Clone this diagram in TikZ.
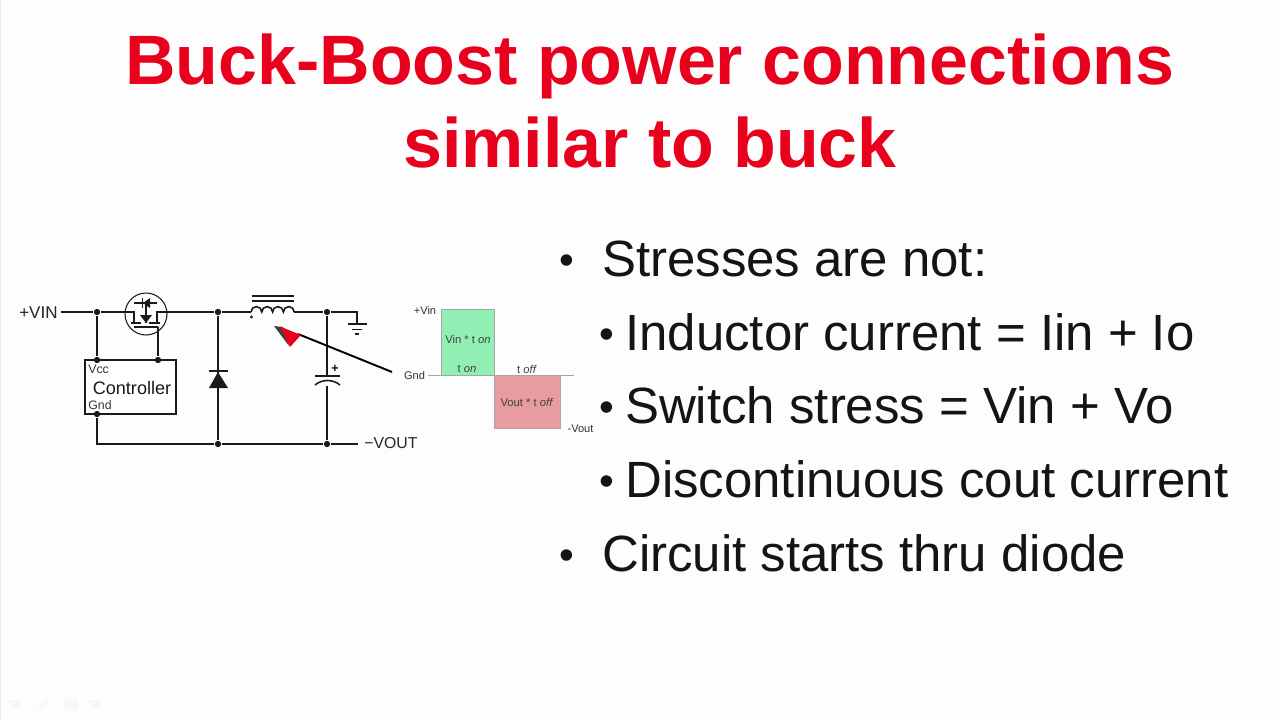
\documentclass[tikz,border=0pt]{standalone}
\usepackage{fontspec}
\setmainfont{Liberation Sans}
\usepackage[svgnames]{xcolor}
\usetikzlibrary{positioning}
\definecolor{titlered}{HTML}{E8001C}
\definecolor{pagewhite}{HTML}{FDFDFD}
\definecolor{wireblack}{HTML}{1A1A1A}
\definecolor{ongreen}{HTML}{92EFB4}
\definecolor{offred}{HTML}{E99C9F}
\tikzset{
  x=0.02cm,
  y=-0.02cm,
  wire/.style={draw=wireblack, line width=0.9pt},
  joint/.style={fill=wireblack, circle, inner sep=0pt, minimum size=3.6pt},
  titletext/.style={anchor=base, text=titlered, font=\fontsize{39.8}{39.8}\selectfont\bfseries},
  bodytext/.style={anchor=base west, text=black!92, font=\fontsize{29}{29}\selectfont},
  bullettext/.style={anchor=base, text=black!92, font=\fontsize{24}{24}\selectfont},
  smalltext/.style={text=black!75, font=\fontsize{6.4}{6.4}\selectfont},
  pintext/.style={text=black!80, font=\fontsize{7}{7}\selectfont, inner sep=0pt},
  plottext/.style={text=black!80, font=\fontsize{6.3}{6.3}\selectfont, inner sep=0pt},
  railtext/.style={text=black!85, font=\fontsize{9}{9}\selectfont, inner sep=0pt},
}
\begin{document}
\begin{tikzpicture}
\path[fill=pagewhite] (0,0) rectangle (1280,720);
\useasboundingbox (0,0) rectangle (1280,720);
\path[draw=black!8, line width=0.8pt] (0.5,0) -- (0.5,720);

% title
\node[titletext] (titleone) at (650,84) {Buck-Boost power connections};
\node[titletext] (titletwo) at (650,167) {similar to buck};

% bullets
\node[bullettext] (dotone) at (567,274) {•};
\node[bodytext] (lineone) at (596,276) {Stresses are not:};
\node[bullettext] (dottwo) at (607,348) {•};
\node[bodytext] (linetwo) at (619,350) {Inductor current = Iin + Io};
\node[bullettext] (dotthree) at (607,421) {•};
\node[bodytext] (linethree) at (619,423) {Switch stress = Vin + Vo};
\node[bullettext] (dotfour) at (607,495) {•};
\node[bodytext] (linefour) at (619,497) {Discontinuous cout current};
\node[bullettext] (dotfive) at (567,569) {•};
\node[bodytext] (linefive) at (596,571) {Circuit starts thru diode};

% controller
\node[draw=wireblack, line width=0.8pt, fill=white, minimum width=1.82cm, minimum height=1.08cm,
  inner sep=0pt] (ctrl) at (130.5,387) {};
\node[font=\fontsize{10.3}{10.3}\selectfont, text=black!90] (ctrlname) at (132,388) {Controller};
\node[pintext, anchor=west] (vcc) at (88,369) {Vcc};
\node[pintext, anchor=west] (gnd) at (88,405.5) {Gnd};

% schematic points
\node[railtext, anchor=east, font=\fontsize{9.7}{9.7}\selectfont] (vin) at (58,313) {+VIN};
\node[railtext, anchor=west] (vout) at (364,443) {−VOUT};
\node[joint] (jvcc) at (97,312) {};
\node[joint] (jdiode) at (218,312) {};
\node[joint] (jcap) at (327,312) {};
\node[joint] (jdiodelow) at (218,444) {};
\node[joint] (jcaplow) at (327,444) {};
\node[joint] (pinvcc) at (97,360) {};
\node[joint] (pingate) at (158,360) {};
\node[joint] (pingnd) at (97,414) {};
\coordinate (vinend) at (61,312);
\coordinate (fetleft) at (125,312);
\coordinate (fetright) at (167,312);
\coordinate (coilleft) at (251,312);
\coordinate (coilright) at (294,312);
\coordinate (gndtop) at (357,312);
\coordinate (gndbar) at (357,324);
\coordinate (voutend) at (358,444);
\coordinate (gateend) at (158,327);

% wires
\draw[wire] (vinend) -- (jvcc) -- (fetleft);
\draw[wire] (fetright) -- (jdiode) -- (coilleft);
\draw[wire] (coilright) -- (jcap) -- (gndtop) -- (gndbar);
\draw[wire] (jvcc) -- (pinvcc);
\draw[wire] (gateend) -- (pingate);
\draw[wire] (pingnd) |- (jdiodelow) -- (jcaplow) -- (voutend);
\draw[wire] (jdiode) -- (jdiodelow);
\draw[wire] (jcap) -- (jcaplow);

% fet
\node[draw=wireblack, line width=0.6pt, circle, minimum size=0.84cm, inner sep=0pt] (fet) at (146,314) {};
\draw[wire]
(fetleft) -- (134,312) -- (134,323)
(fetright) -- (157,312) -- (157,323)
(131,323) -- (141,323)
(149,323) -- (160,323)
(134,327) -- (gateend)
(134,303) -- (157,303)
(146,303) -- (146,323)
;
\fill[wireblack]
(143,303) -- (150,298) -- (150,308) -- cycle
(140,315) -- (152,315) -- (146,323) -- cycle
;
\draw[wire] (142.5,298) -- (142.5,308);

% inductor
\draw[wire] (252,296) -- (294,296) (252,301) -- (294,301);
\draw[wire]
(coilleft)
arc[start angle=180, end angle=360, radius=5.4]
arc[start angle=180, end angle=360, radius=5.4]
arc[start angle=180, end angle=360, radius=5.4]
arc[start angle=180, end angle=360, radius=5.4]
;
\fill[wireblack] (251.5,317) circle[radius=1.6];

% diode
\fill[wireblack] (218,372) -- (228,388) -- (209,388) -- cycle;
\draw[wire] (209,371) -- (228,371);

% capacitor
\path[fill=pagewhite] (315,376) rectangle (340,386);
\draw[wire] (315,376) -- (340,376);
\draw[wire] (315,385) .. controls (322,379) and (333,379) .. (340,385);
\node[font=\fontsize{7}{7}\selectfont\bfseries, inner sep=0pt] (capplus) at (335,369) {+};

% ground
\draw[wire]
(348,324) -- (367,324)
(352,329.5) -- (362,329.5)
(355,334) -- (359,334)
;

% voltage plot
\path[fill=ongreen] (441,309) rectangle (494,375);
\path[fill=offred] (494,375) rectangle (560,428);
\path[draw=black!35, line width=0.5pt]
(441,375) -- (441,309) -- (494,309) -- (494,428) -- (560,428) -- (560,375)
;
\node[plottext] (plotvin) at (425,310) {+Vin};
\node[plottext] (plotgnd) at (414.5,376) {Gnd};
\node[plottext] (plotvout) at (580.5,428.5) {-Vout};
\coordinate (axisleft) at (428,375);
\coordinate (axisright) at (574,375);
\draw[black!35, line width=0.5pt] (axisleft) -- (axisright);
\node[smalltext, inner sep=0pt] (areaon) at (468,339.5) {Vin * t \textit{on}};
\node[smalltext, inner sep=0pt] (ton) at (467,369) {t \textit{on}};
\node[smalltext, inner sep=0pt] (toff) at (527,369) {t \textit{off}};
\node[smalltext, inner sep=0pt] (areaoff) at (527,402) {Vout * t \textit{off}};

% pointer
\coordinate (pointertip) at (274,326);
\coordinate (pointertail) at (392,372);
\draw[black, line width=1.1pt] (pointertail) -- (298,334);
\path[fill=black!75] (pointertip) -- (283,327) -- (289,346) -- cycle;
\path[fill=titlered] (280,326.5) -- (301,335) -- (290,347) -- cycle;

% faint slide controls
\path[fill=black!3]
(8,700) -- (23,700) -- (15.5,710) -- cycle
(38,708) -- (46,699) -- (48,701) -- (40,710) -- cycle
(63,699) rectangle (78,709)
(88,700) -- (103,700) -- (95.5,710) -- cycle
;
\end{tikzpicture}
\end{document}
